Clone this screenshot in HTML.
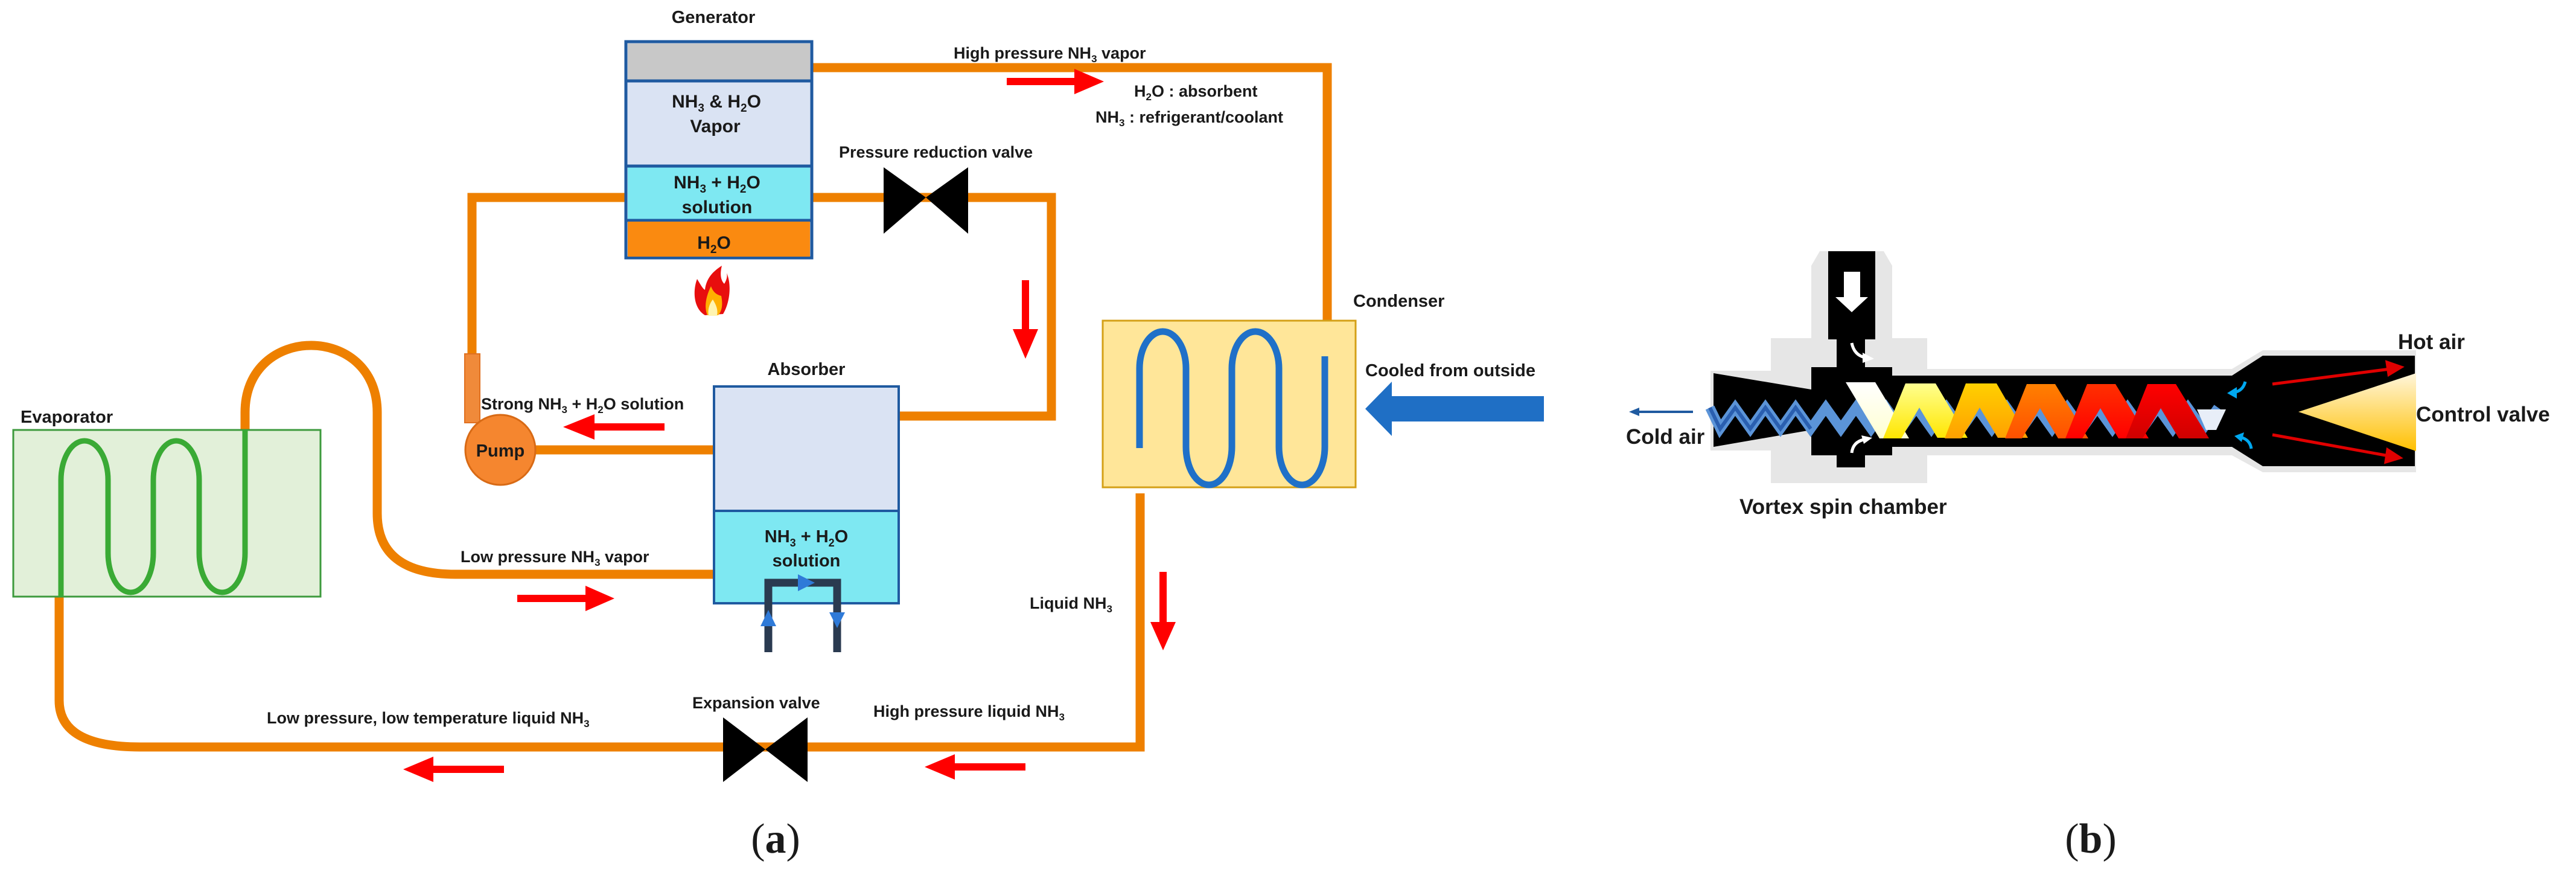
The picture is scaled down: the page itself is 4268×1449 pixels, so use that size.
<!DOCTYPE html>
<html><head><meta charset="utf-8">
<style>
html,body{margin:0;padding:0;background:#fff;}
svg{display:block;}
text{font-family:"Liberation Sans",sans-serif;font-weight:bold;fill:#1a1a1a;}
</style></head>
<body>
<svg width="4268" height="1449" viewBox="0 0 4268 1449" xmlns="http://www.w3.org/2000/svg">
<defs>
<linearGradient id="cv" x1="0" y1="0" x2="0" y2="1"><stop offset="0" stop-color="#fff6dc"/><stop offset="1" stop-color="#ffc000"/></linearGradient>
<linearGradient id="wh" x1="0" y1="0" x2="0" y2="1"><stop offset="0" stop-color="#ffffff"/><stop offset="1" stop-color="#ffffd0"/></linearGradient>
<linearGradient id="ye" x1="0" y1="0" x2="0" y2="1"><stop offset="0" stop-color="#ffff90"/><stop offset="1" stop-color="#ffe600"/></linearGradient>
<linearGradient id="go" x1="0" y1="0" x2="0" y2="1"><stop offset="0" stop-color="#ffd000"/><stop offset="1" stop-color="#ffa000"/></linearGradient>
<linearGradient id="or" x1="0" y1="0" x2="0" y2="1"><stop offset="0" stop-color="#ff8000"/><stop offset="1" stop-color="#ff5000"/></linearGradient>
<linearGradient id="ro" x1="0" y1="0" x2="0" y2="1"><stop offset="0" stop-color="#ff3000"/><stop offset="1" stop-color="#ff0000"/></linearGradient>
<linearGradient id="rd" x1="0" y1="0" x2="0" y2="1"><stop offset="0" stop-color="#ff0000"/><stop offset="1" stop-color="#d00000"/></linearGradient>
</defs>

<!-- ===== PANEL A pipes ===== -->
<g fill="none" stroke="#ee8000" stroke-width="15" stroke-linejoin="miter">
<path d="M1347,112 H2199 V531"/>
<path d="M1347,327 H1742 V689 H1489"/>
<path d="M1035,327 H782 V600"/>
<path d="M884,745 H1183"/>
<path d="M406,712 V683 C406,535 625,535 625,683 V850 Q625,951 755,951 H1183"/>
<path d="M98,988 V1160 Q98,1237 232,1237 H1889 V817"/>
</g>
<!-- pump -->
<rect x="770" y="586" width="25" height="114" fill="#f08a3a" stroke="#e07020" stroke-width="2"/>
<circle cx="829" cy="745" r="58" fill="#f5862f" stroke="#d86a15" stroke-width="3"/>
<text x="829" y="756" font-size="29" text-anchor="middle">Pump</text>

<!-- Generator -->
<rect x="1037" y="69" width="308" height="358" fill="#dae3f3" stroke="#1f5aa0" stroke-width="5"/>
<rect x="1040" y="72" width="302" height="61" fill="#c8c8c8"/>
<line x1="1037" y1="134" x2="1345" y2="134" stroke="#1f5aa0" stroke-width="5"/>
<rect x="1040" y="276" width="302" height="88" fill="#7ee8f2"/>
<line x1="1037" y1="275" x2="1345" y2="275" stroke="#1f5aa0" stroke-width="5"/>
<line x1="1037" y1="365" x2="1345" y2="365" stroke="#1f5aa0" stroke-width="5"/>
<rect x="1040" y="367" width="302" height="58" fill="#fa8a10"/>
<text x="1182" y="38" font-size="29" text-anchor="middle">Generator</text>
<text x="1187" y="178" font-size="30" text-anchor="middle">NH<tspan font-size="19" dy="7">3</tspan><tspan dy="-7"> &amp; H</tspan><tspan font-size="19" dy="7">2</tspan><tspan dy="-7">O</tspan></text>
<text x="1185" y="219" font-size="30" text-anchor="middle">Vapor</text>
<text x="1188" y="312" font-size="30" text-anchor="middle">NH<tspan font-size="19" dy="7">3</tspan><tspan dy="-7"> + H</tspan><tspan font-size="19" dy="7">2</tspan><tspan dy="-7">O</tspan></text>
<text x="1188" y="353" font-size="30" text-anchor="middle">solution</text>
<text x="1183" y="412" font-size="30" text-anchor="middle">H<tspan font-size="19" dy="7">2</tspan><tspan dy="-7">O</tspan></text>
<!-- flame -->
<path d="M1168,522 C1148,510 1148,480 1155,462 C1160,470 1164,478 1168,480 C1170,462 1180,450 1196,440 C1192,456 1195,465 1200,470 C1205,462 1205,456 1204,452 C1212,470 1210,500 1198,520 Z" fill="#e80e0e"/>
<path d="M1172,522 C1166,508 1170,490 1178,474 C1182,485 1188,488 1195,490 C1198,505 1196,515 1190,522 Z" fill="#ffb000"/>
<path d="M1174,523 C1172,512 1176,502 1181,496 C1186,504 1190,512 1188,523 Z" fill="#fff4b0"/>

<!-- Absorber -->
<rect x="1183" y="640" width="306" height="359" fill="#dae3f3" stroke="#1f5aa0" stroke-width="4"/>
<rect x="1185" y="846" width="302" height="151" fill="#7ee8f2"/>
<line x1="1183" y1="846" x2="1489" y2="846" stroke="#1f5aa0" stroke-width="4"/>
<text x="1336" y="621" font-size="29" text-anchor="middle">Absorber</text>
<text x="1336" y="898" font-size="29" text-anchor="middle">NH<tspan font-size="18" dy="7">3</tspan><tspan dy="-7"> + H</tspan><tspan font-size="18" dy="7">2</tspan><tspan dy="-7">O</tspan></text>
<text x="1336" y="938" font-size="29" text-anchor="middle">solution</text>
<path d="M1273,1080 V965 H1387 V1080" fill="none" stroke="#2a3a50" stroke-width="13"/>
<polygon points="1273,1010 1260,1037 1286,1037" fill="#2f7ad8"/>
<polygon points="1387,1040 1374,1014 1400,1014" fill="#2f7ad8"/>
<polygon points="1350,965 1322,951 1322,979" fill="#2f7ad8"/>

<!-- Evaporator -->
<rect x="22" y="712" width="509" height="276" fill="#e2f0d9" stroke="#3d9a3d" stroke-width="3"/>
<text x="34" y="700" font-size="29">Evaporator</text>
<path d="M101,988 V795 A39,65 0 0 1 179,795 V916 A37.5,65 0 0 0 254,916 V795 A38,65 0 0 1 330,795 V916 A38,65 0 0 0 406,916 V712" fill="none" stroke="#3aaa35" stroke-width="9"/>

<!-- Condenser -->
<rect x="1827" y="531" width="419" height="276" fill="#ffe699" stroke="#d4a017" stroke-width="3"/>
<path d="M1888,742 V610 A38.5,61 0 0 1 1965,610 V740 A38,63 0 0 0 2041,740 V610 A39,61 0 0 1 2119,610 V740 A38,63 0 0 0 2195,740 V590" fill="none" stroke="#1f70c8" stroke-width="11"/>
<text x="2242" y="508" font-size="29">Condenser</text>
<text x="2262" y="623" font-size="29">Cooled from outside</text>
<polygon points="2262,677 2306,632 2306,656 2558,656 2558,698 2306,698 2306,722" fill="#1f6fc5"/>

<!-- valves -->
<polygon points="1464,277 1534,327 1464,387" fill="#000"/>
<polygon points="1604,277 1534,327 1604,387" fill="#000"/>
<polygon points="1198,1188 1268,1241 1198,1295" fill="#000"/>
<polygon points="1338,1188 1268,1241 1338,1295" fill="#000"/>

<!-- red arrows -->
<g fill="#ff0000">
<polygon points="1668,129 1780,129 1780,114 1829,135 1780,156 1780,141 1668,141"/>
<polygon points="1693,464 1705,464 1705,545 1720,545 1699,594 1678,545 1693,545"/>
<polygon points="1101,701 985,701 985,686 933,707 985,728 985,713 1101,713"/>
<polygon points="857,985 970,985 970,970 1018,991 970,1012 970,997 857,997"/>
<polygon points="1921,947 1933,947 1933,1030 1948,1030 1927,1077 1906,1030 1921,1030"/>
<polygon points="1699,1264 1582,1264 1582,1249 1532,1270 1582,1291 1582,1276 1699,1276"/>
<polygon points="835,1268 718,1268 718,1253 668,1274 718,1295 718,1280 835,1280"/>
</g>

<!-- panel A labels -->
<text x="1580" y="97" font-size="27">High pressure NH<tspan font-size="17" dy="6">3</tspan><tspan dy="-6"> vapor</tspan></text>
<text x="1879" y="160" font-size="27">H<tspan font-size="17" dy="6">2</tspan><tspan dy="-6">O : absorbent</tspan></text>
<text x="1815" y="203" font-size="27">NH<tspan font-size="17" dy="6">3</tspan><tspan dy="-6"> : refrigerant/coolant</tspan></text>
<text x="1390" y="261" font-size="27">Pressure reduction valve</text>
<text x="797" y="678" font-size="27">Strong NH<tspan font-size="17" dy="6">3</tspan><tspan dy="-6"> + H</tspan><tspan font-size="17" dy="6">2</tspan><tspan dy="-6">O solution</tspan></text>
<text x="763" y="931" font-size="27">Low pressure NH<tspan font-size="17" dy="6">3</tspan><tspan dy="-6"> vapor</tspan></text>
<text x="1706" y="1008" font-size="27">Liquid NH<tspan font-size="17" dy="6">3</tspan></text>
<text x="1447" y="1187" font-size="27">High pressure liquid NH<tspan font-size="17" dy="6">3</tspan></text>
<text x="1147" y="1173" font-size="27">Expansion valve</text>
<text x="442" y="1198" font-size="27">Low pressure, low temperature liquid NH<tspan font-size="17" dy="6">3</tspan></text>
<text x="1285" y="1412" font-size="70" text-anchor="middle" style="font-family:'Liberation Serif',serif;font-weight:normal">(<tspan font-weight="bold">a</tspan>)</text>

<!-- ===== PANEL B vortex tube ===== -->
<g fill="#e6e6e6">
<polygon points="3001,440 3015,416 3121,416 3135,440 3135,560 3001,560"/>
<rect x="2934" y="560" width="259" height="240"/>
<polygon points="2834,614 2934,614 2934,746 2834,746"/>
<rect x="3135" y="611" width="563" height="143"/>
<polygon points="3698,611 3749,580 4003,580 4003,782 3749,782 3698,754"/>
</g>
<g fill="#000">
<rect x="3029" y="416" width="78" height="146"/>
<rect x="3043" y="556" width="47" height="60"/>
<rect x="3001" y="608" width="134" height="146"/>
<rect x="3043" y="750" width="47" height="24"/>
<polygon points="2839,618 3001,645 3001,712 2839,740"/>
<rect x="3130" y="622" width="570" height="118"/>
<polygon points="3698,622 3749,589 4001,589 4001,772 3749,772 3698,740"/>
</g>
<!-- inlet arrow -->
<polygon points="3055,450 3082,450 3082,492 3095,492 3068,517 3041,492 3055,492" fill="#fff"/>
<!-- control valve cone -->
<polygon points="3808,682 4003,618 4003,747" fill="url(#cv)"/>
<!-- blue helix -->
<polyline points="2833,675 2850,710 2875,675 2900,710 2925,675 2950,710 2975,675 3000,710 3025,675 3050,710 3075,675 3100,710 3125,675 3150,710 3175,675 3200,710 3225,675 3250,710 3275,675 3300,710 3325,675 3350,710 3375,675 3400,710 3425,675 3450,710 3475,675 3500,710 3525,675 3550,710 3575,675 3600,710 3625,675 3650,710 3675,675" fill="none" stroke="#5b94d8" stroke-width="16"/>
<polyline points="2833,675 2850,710 2875,675 2900,710 2925,675 2950,710 2975,675 3000,710" fill="none" stroke="#2a5fb0" stroke-width="6"/>
<!-- colored bands -->
<g>
<polygon points="3058,633 3107,633 3163,726 3114,726" fill="url(#wh)"/>
<polygon points="3157,635 3207,635 3260,725 3210,725 3180,675 3150,726 3120,726" fill="url(#ye)"/>
<polygon points="3257,635 3308,635 3360,725 3310,725 3280,675 3250,726 3222,726" fill="url(#go)"/>
<polygon points="3358,636 3405,636 3460,726 3410,726 3380,676 3350,726 3322,726" fill="url(#or)"/>
<polygon points="3458,636 3505,636 3560,726 3510,726 3480,676 3450,726 3422,726" fill="url(#ro)"/>
<polygon points="3558,636 3605,636 3660,726 3610,726 3580,676 3550,726 3522,726" fill="url(#rd)"/>
<polygon points="3640,678 3688,678 3672,712 3655,712" fill="#e8eef8"/>
</g>
<!-- white curved arrows -->
<path d="M3068,568 Q3072,588 3090,592" fill="none" stroke="#fff" stroke-width="5"/>
<polygon points="3086,584 3105,594 3086,601" fill="#fff"/>
<path d="M3068,750 Q3070,732 3088,728" fill="none" stroke="#fff" stroke-width="5"/>
<polygon points="3084,721 3102,725 3088,735" fill="#fff"/>
<!-- blue small arrows -->
<path d="M3720,632 Q3716,648 3700,650" fill="none" stroke="#00a8f0" stroke-width="5"/>
<polygon points="3706,641 3690,651 3706,660" fill="#00a8f0"/>
<path d="M3730,743 Q3728,728 3712,724" fill="none" stroke="#00a8f0" stroke-width="5"/>
<polygon points="3718,716 3702,722 3714,732" fill="#00a8f0"/>
<!-- red arrows hot -->
<g stroke="#e00000" stroke-width="5" fill="#e00000">
<line x1="3765" y1="636" x2="3960" y2="611"/>
<polygon points="3978,608 3955,600 3958,620"/>
<line x1="3765" y1="720" x2="3958" y2="755"/>
<polygon points="3976,758 3956,745 3953,765"/>
</g>
<!-- cold air arrow -->
<line x1="2805" y1="682" x2="2712" y2="682" stroke="#1f5aa0" stroke-width="4"/>
<polygon points="2699,682 2716,675 2716,689" fill="#1f5aa0"/>
<text x="2694" y="735" font-size="35">Cold air</text>
<text x="3973" y="578" font-size="35">Hot air</text>
<text x="4003" y="698" font-size="35">Control valve</text>
<text x="2882" y="851" font-size="35">Vortex spin chamber</text>
<text x="3464" y="1412" font-size="70" text-anchor="middle" style="font-family:'Liberation Serif',serif;font-weight:normal">(<tspan font-weight="bold">b</tspan>)</text>
</svg>
</body></html>
